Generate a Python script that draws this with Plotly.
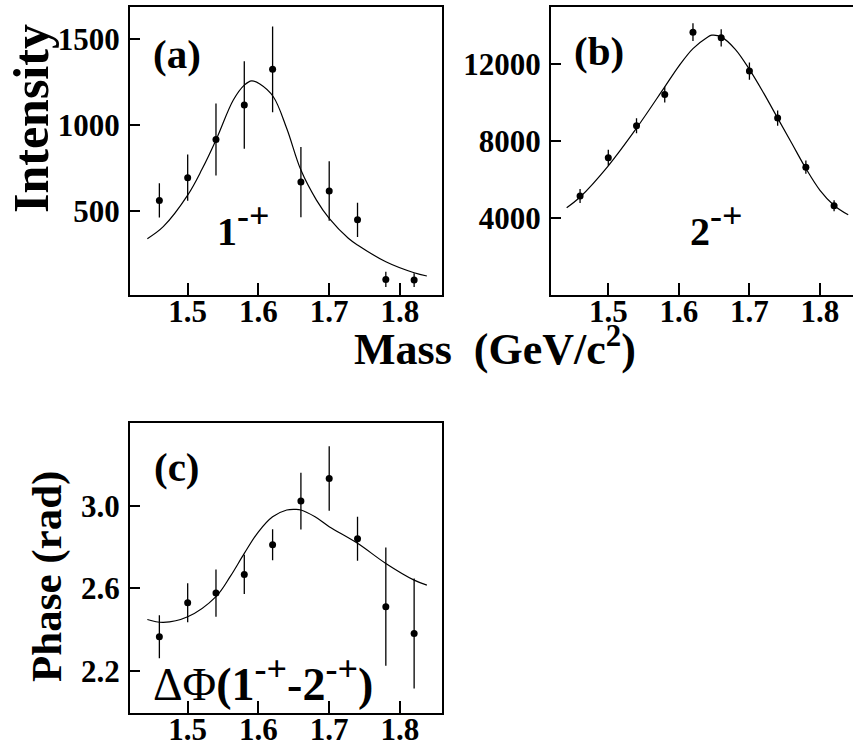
import plotly.graph_objects as go

# ---------------- data ----------------
mass = [1.46, 1.50, 1.54, 1.58, 1.62, 1.66, 1.70, 1.74, 1.78, 1.82]

int_1mp = [560, 693, 916, 1117, 1325, 667, 615, 447, 99, 95]
err_1mp = [100, 135, 210, 255, 250, 205, 173, 100, 44, 40]
fit_1mp_x = [1.443, 1.4655, 1.50, 1.52, 1.541, 1.5645, 1.58, 1.5904, 1.602, 1.621,
             1.64, 1.66, 1.682, 1.70, 1.727, 1.74, 1.78, 1.82, 1.838]
fit_1mp_y = [337, 407, 591, 740, 922, 1146, 1233, 1258, 1239, 1165,
             980, 737, 562, 455, 339, 300, 202, 138, 119]

int_2mp = [5133, 7120, 8776, 10397, 13638, 13342, 11617, 9176, 6632, 4627]
err_2mp = [360, 410, 390, 410, 460, 450, 450, 400, 340, 280]
fit_2mp_x = [1.441, 1.46, 1.50, 1.54, 1.58, 1.60, 1.62, 1.64, 1.6465, 1.66, 1.68,
             1.70, 1.72, 1.74, 1.76, 1.78, 1.80, 1.82, 1.84]
fit_2mp_y = [4523, 5080, 6702, 8654, 10797, 11878, 12784, 13360, 13481, 13394, 12749,
             11704, 10484, 9176, 7869, 6562, 5429, 4645, 4157]

phase = [2.365, 2.530, 2.577, 2.668, 2.812, 3.024, 3.134, 2.841, 2.511, 2.381]
err_phase = [0.105, 0.095, 0.115, 0.095, 0.075, 0.138, 0.157, 0.107, 0.287, 0.267]
fit_ph_x = [1.443, 1.4655, 1.50, 1.54, 1.56, 1.58, 1.60, 1.62, 1.64, 1.6525, 1.66,
            1.68, 1.70, 1.74, 1.78, 1.82, 1.838]
fit_ph_y = [2.449, 2.435, 2.462, 2.560, 2.657, 2.770, 2.875, 2.948, 2.981, 2.984, 2.981,
            2.948, 2.900, 2.819, 2.721, 2.640, 2.616]

x_ticks = [1.5, 1.6, 1.7, 1.8]
x_tick_text = ["1.5", "1.6", "1.7", "1.8"]
ya_ticks = [500, 1000, 1500]
yb_ticks = [4000, 8000, 12000]
yc_ticks = [2.2, 2.6, 3.0]
yc_tick_text = ["2.2", "2.6", "3.0"]

# ---------------- layout helpers ----------------
W, H = 853, 746
FONT = "Liberation Serif"


def px(x):
    return x / W


def py(y):
    return 1 - y / H


fig = go.Figure()

panels = [
    ("x", "y", int_1mp, err_1mp, fit_1mp_x, fit_1mp_y),
    ("x2", "y2", int_2mp, err_2mp, fit_2mp_x, fit_2mp_y),
    ("x3", "y3", phase, err_phase, fit_ph_x, fit_ph_y),
]
for xa, ya, vals, errs, fx, fy in panels:
    fig.add_trace(go.Scatter(
        x=fx, y=fy, xaxis=xa, yaxis=ya, mode="lines", line_shape="spline",
        line=dict(color="black", width=1.2), showlegend=False, hoverinfo="skip"))
    fig.add_trace(go.Scatter(
        x=mass, y=vals, xaxis=xa, yaxis=ya, mode="markers",
        marker=dict(color="black", size=7),
        error_y=dict(type="data", array=errs, visible=True, color="black",
                     thickness=1.3, width=0),
        showlegend=False))

tickfont = dict(family=FONT, size=31, color="black", weight="bold")
common_x = dict(tickmode="array", tickvals=x_ticks, ticktext=x_tick_text,
                ticks="inside", ticklen=12, tickwidth=1.5, tickcolor="black",
                showline=True, linecolor="black", linewidth=2, showgrid=False,
                zeroline=False, tickfont=tickfont, ticklabelstandoff=-12,
                automargin=False)
common_y = dict(tickmode="array", ticks="inside", ticklen=10, tickwidth=1.5,
                tickcolor="black", showline=True, linecolor="black", linewidth=2,
                showgrid=False, zeroline=False, tickfont=tickfont, ticklabelstandoff=2,
                automargin=False)

dom_ax = [px(130), px(442.3)]
dom_ay = [py(295), py(6.5)]
dom_bx = [px(551), 1.0]
dom_cy = [py(712.7), py(423.3)]

fig.update_layout(
    width=W, height=H,
    margin=dict(l=0, r=0, t=0, b=0, autoexpand=False),
    paper_bgcolor="white", plot_bgcolor="white",
    xaxis=dict(domain=dom_ax, range=[1.4185, 1.8598], anchor="y", mirror=True, **common_x),
    yaxis=dict(domain=dom_ay, range=[8, 1692], anchor="x", mirror=True,
               tickvals=ya_ticks, ticktext=[str(v) for v in ya_ticks], **common_y),
    xaxis2=dict(domain=dom_bx, range=[1.4188, 1.8468], anchor="y2", mirror=True, **common_x),
    yaxis2=dict(domain=dom_ay, range=[-5, 14970], anchor="x2", mirror=False,
                tickvals=yb_ticks, ticktext=[str(v) for v in yb_ticks], **common_y),
    xaxis3=dict(domain=dom_ax, range=[1.4185, 1.8598], anchor="y3", mirror=True, **common_x),
    yaxis3=dict(domain=dom_cy, range=[1.996, 3.402], anchor="x3", mirror=True,
                tickvals=yc_ticks, ticktext=yc_tick_text, **common_y),
)


def ann(text, x, y, size, xanchor="center", yanchor="middle", angle=0, weight="bold"):
    fig.add_annotation(text=text, x=px(x), y=py(y), xref="paper", yref="paper",
                       showarrow=False, xanchor=xanchor, yanchor=yanchor,
                       textangle=angle,
                       font=dict(family=FONT, size=size, color="black", weight=weight))


SUP = "<sup><span style='font-size:36px'>-+</span></sup>"

ann("Intensity", 31, 119, 50, angle=-90)
ann("Phase (rad)", 47, 577, 43, angle=-90)
ann("Mass  (GeV/c<sup>2</sup>)", 495, 346, 44)
ann("(a)", 177, 54, 41)
ann("(b)", 599, 51, 41)
ann("(c)", 177, 467, 41)
ann("1" + SUP, 215, 225, 40, xanchor="left")
ann("2" + SUP, 688, 225, 40, xanchor="left")
ann("\u0394\u03a6<b>(1" + SUP + "-2" + SUP + ")</b>", 151, 679, 46,
    xanchor="left", weight="normal")

fig.write_html("out.html", config={"displayModeBar": False},
               post_script="document.body.style.margin='0';document.body.style.overflow='hidden';")
